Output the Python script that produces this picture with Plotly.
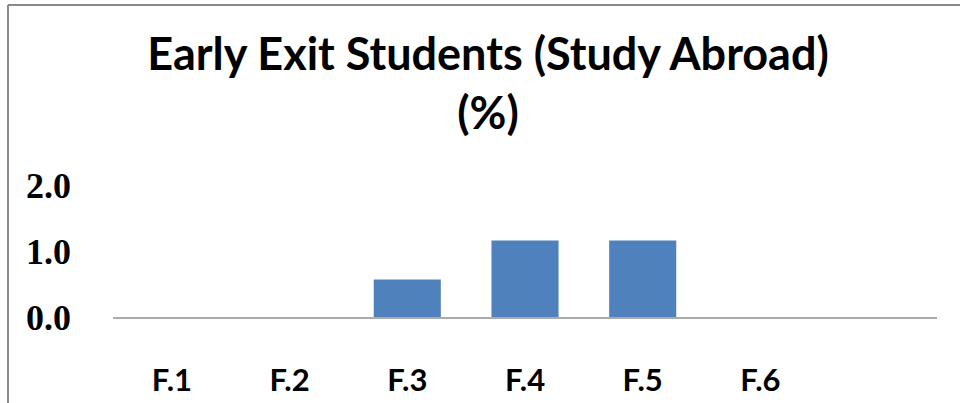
import plotly.graph_objects as go

categories = ["F.1", "F.2", "F.3", "F.4", "F.5", "F.6"]
values = [0.0, 0.0, 0.57, 1.16, 1.16, 0.0]
y_ticks = [0, 1, 2]
y_tick_labels = ["0.0", "1.0", "2.0"]
title_text = "Early Exit Students (Study Abroad)<br>(%)"

W, H = 960, 403
ML, MR, MT, MB = 113, 23, 185, 86
PW, PH = W - ML - MR, H - MT - MB


def px_x(px):
    return (px - ML) / PW


def px_y(py):
    return (H - MB - py) / PH


fig = go.Figure(
    go.Bar(
        x=categories,
        y=values,
        marker=dict(color="#4F81BD", line=dict(width=0)),
        width=0.57,
    )
)

fig.update_layout(
    width=W,
    height=H,
    margin=dict(l=ML, r=MR, t=MT, b=MB, autoexpand=False),
    paper_bgcolor="white",
    plot_bgcolor="white",
    showlegend=False,
    title=dict(
        text=title_text,
        x=488 / W,
        xanchor="center",
        y=1 - 70 / H,
        yanchor="top",
        automargin=False,
        font=dict(family="Lato", size=45, color="black", weight="bold"),
    ),
    xaxis=dict(
        type="category",
        range=[-0.5, 6.5],
        automargin=False,
        showline=True,
        linecolor="#ABABAB",
        linewidth=2,
        showgrid=False,
        ticks="",
        ticklabelstandoff=35,
        tickfont=dict(family="Lato", size=31, color="black", weight="bold"),
    ),
    yaxis=dict(
        range=[0, 2],
        automargin=False,
        tickvals=y_ticks,
        ticktext=y_tick_labels,
        showline=False,
        showgrid=False,
        zeroline=False,
        ticks="",
        ticklabelstandoff=41,
        tickfont=dict(family="Liberation Serif", size=36, color="black", weight="bold"),
    ),
    shapes=[
        dict(type="line", xref="paper", yref="paper",
             x0=px_x(8), y0=px_y(5), x1=px_x(960), y1=px_y(5),
             line=dict(color="#898989", width=2)),
        dict(type="line", xref="paper", yref="paper",
             x0=px_x(8), y0=px_y(5), x1=px_x(8), y1=px_y(403),
             line=dict(color="#898989", width=2)),
    ],
)

fig.write_html(
    "out.html",
    config={"displayModeBar": False},
    post_script="document.body.style.margin='0';",
)
